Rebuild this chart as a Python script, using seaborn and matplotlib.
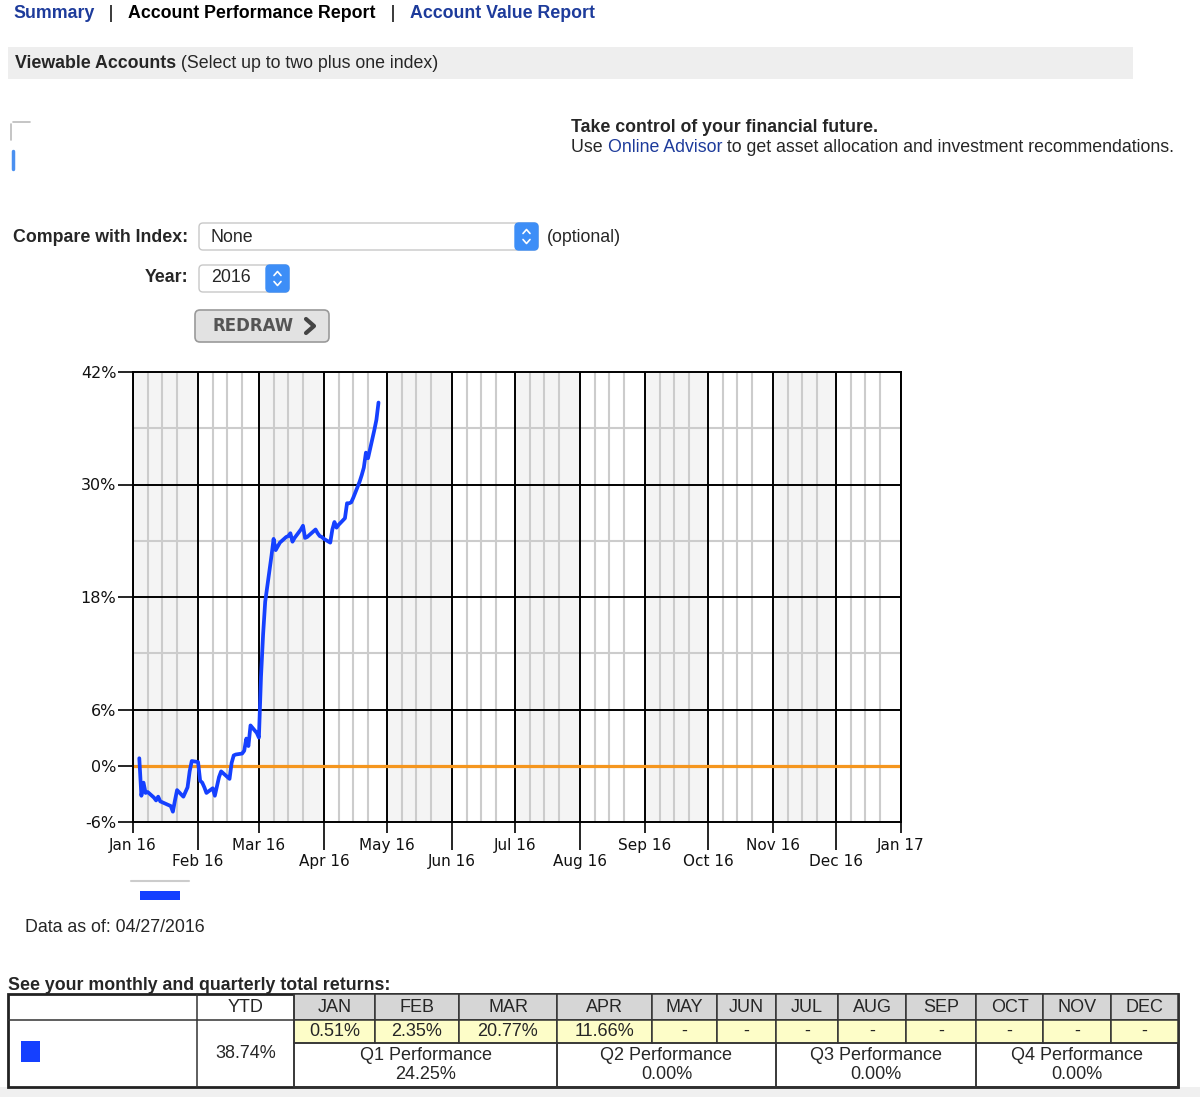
import matplotlib.pyplot as plt
import matplotlib.dates as mdates
import matplotlib.ticker as mticker
from matplotlib.patches import Rectangle, FancyBboxPatch
import pandas as pd
import seaborn as sns

# daily cumulative return of the account
dates = [
    "2016-01-04", "2016-01-05", "2016-01-06", "2016-01-07", "2016-01-08",
    "2016-01-11", "2016-01-12", "2016-01-13", "2016-01-14", "2016-01-15",
    "2016-01-19", "2016-01-20", "2016-01-21", "2016-01-22", "2016-01-25",
    "2016-01-26", "2016-01-27", "2016-01-28", "2016-01-29",
    "2016-02-01", "2016-02-02", "2016-02-03", "2016-02-04", "2016-02-05",
    "2016-02-08", "2016-02-09", "2016-02-10", "2016-02-11", "2016-02-12",
    "2016-02-16", "2016-02-17", "2016-02-18", "2016-02-19", "2016-02-22",
    "2016-02-23", "2016-02-24", "2016-02-25", "2016-02-26", "2016-02-29",
    "2016-03-01", "2016-03-02", "2016-03-03", "2016-03-04", "2016-03-07",
    "2016-03-08", "2016-03-09", "2016-03-10", "2016-03-11", "2016-03-14",
    "2016-03-15", "2016-03-16", "2016-03-17", "2016-03-18", "2016-03-21",
    "2016-03-22", "2016-03-23", "2016-03-24", "2016-03-28", "2016-03-29",
    "2016-03-30", "2016-03-31",
    "2016-04-01", "2016-04-04", "2016-04-05", "2016-04-06", "2016-04-07",
    "2016-04-08", "2016-04-11", "2016-04-12", "2016-04-13", "2016-04-14",
    "2016-04-15", "2016-04-18", "2016-04-19", "2016-04-20", "2016-04-21",
    "2016-04-22", "2016-04-25", "2016-04-26", "2016-04-27",
]
returns = [
    0.8, -3.2, -1.8, -2.9, -2.8,
    -3.4, -3.7, -3.3, -3.8, -3.9,
    -4.3, -4.9, -3.7, -2.6, -3.3,
    -2.8, -2.3, -0.6, 0.5,
    0.4, -1.6, -1.8, -2.3, -2.9,
    -2.4, -3.2, -2.2, -1.2, -0.6,
    -1.4, 0.3, 1.1, 1.2, 1.3,
    1.6, 2.9, 2.1, 4.3, 3.5,
    3.0, 9.5, 14.0, 17.5, 22.4,
    24.2, 23.0, 23.4, 23.8, 24.4,
    24.5, 24.8, 23.9, 24.3, 25.2,
    25.6, 24.3, 24.4, 25.2, 24.8,
    24.5, 24.4,
    24.2, 23.8, 25.2, 26.0, 25.4,
    25.7, 26.4, 28.0, 28.0, 28.1,
    28.6, 30.3, 31.0, 31.8, 33.4,
    32.8, 35.8, 36.9, 38.74,
]

y_ticks = [-6, 0, 6, 18, 30, 42]
y_minor = [12, 24, 36]

# returns table
months = ["JAN", "FEB", "MAR", "APR", "MAY", "JUN",
          "JUL", "AUG", "SEP", "OCT", "NOV", "DEC"]
monthly = [0.51, 2.35, 20.77, 11.66, None, None,
           None, None, None, None, None, None]
quarters = ["Q1", "Q2", "Q3", "Q4"]
quarterly = [24.25, 0.00, 0.00, 0.00]
ytd = 38.74
as_of = "04/27/2016"

BLUE = "#1540ff"
LINK = "#1d3b9b"
ORANGE = "#f5961e"

sns.set_theme(style="white")
plt.rcParams["font.family"] = ["Liberation Sans", "DejaVu Sans"]

fig = plt.figure(figsize=(12, 10.97), dpi=100)

# ---- page (pixel coordinates, y down) ----
pax = fig.add_axes([0, 0, 1, 1])
pax.set_xlim(0, 1200)
pax.set_ylim(1097, 0)
pax.axis("off")


def chain(prev, s, **kw):
    return pax.annotate(s, xy=(1, 0), xycoords=prev, va="bottom", ha="left", **kw)


FS = 12.8
t = pax.text(13, 13, "Summary", fontsize=FS, weight="bold", color=LINK, va="center")
t = chain(t, "   |   ", fontsize=FS, color="black")
t = chain(t, "Account Performance Report", fontsize=FS, weight="bold", color="black")
t = chain(t, "   |   ", fontsize=FS, color="black")
chain(t, "Account Value Report", fontsize=FS, weight="bold", color=LINK)

pax.add_patch(Rectangle((8, 47), 1125, 32, color="#eeeeee", lw=0))
t = pax.text(15, 63, "Viewable Accounts", fontsize=FS, weight="bold", va="center")
chain(t, " (Select up to two plus one index)", fontsize=FS)

# blurred account checkboxes
pax.plot([13, 30], [122, 122], color="#bbbbbb", lw=1.2)
pax.plot([11, 11], [124, 140], color="#bbbbbb", lw=1.2)
pax.plot([13, 13], [151, 169], color="#4a90f0", lw=2.5)

pax.text(571, 127, "Take control of your financial future.", fontsize=FS,
         weight="bold", va="center")
t = pax.text(571, 147, "Use ", fontsize=FS, va="center")
t = chain(t, "Online Advisor", fontsize=FS, color=LINK)
chain(t, " to get asset allocation and investment recommendations.", fontsize=FS)

# index / year selectors
pax.text(188, 237, "Compare with Index:", fontsize=FS, weight="bold", va="center", ha="right")
pax.add_patch(FancyBboxPatch((199, 223), 339, 27, boxstyle="round,pad=0,rounding_size=4",
                             fc="white", ec="#c8c8c8", lw=1))
pax.add_patch(FancyBboxPatch((515, 223), 23, 27, boxstyle="round,pad=0,rounding_size=4",
                             fc="#3d8ef7", ec="#3d8ef7", lw=1))
pax.text(211, 237, "None", fontsize=FS, va="center")
pax.text(547, 237, "(optional)", fontsize=FS, va="center")

pax.text(188, 278, "Year:", fontsize=FS, weight="bold", va="center", ha="right")
pax.add_patch(FancyBboxPatch((199, 265), 90, 27, boxstyle="round,pad=0,rounding_size=4",
                             fc="white", ec="#c8c8c8", lw=1))
pax.add_patch(FancyBboxPatch((266, 265), 23, 27, boxstyle="round,pad=0,rounding_size=4",
                             fc="#3d8ef7", ec="#3d8ef7", lw=1))
pax.text(211, 278, "2016", fontsize=FS, va="center")
for cx, cy in [(526.5, 236.5), (277.5, 278.5)]:
    pax.plot([cx - 3.5, cx, cx + 3.5], [cy - 3, cy - 7, cy - 3], color="white", lw=1.2)
    pax.plot([cx - 3.5, cx, cx + 3.5], [cy + 3, cy + 7, cy + 3], color="white", lw=1.2)

pax.add_patch(FancyBboxPatch((195, 310), 134, 32, boxstyle="round,pad=0,rounding_size=5",
                             fc="#e2e2e2", ec="#9a9a9a", lw=1.2))
pax.text(253, 326, "REDRAW", fontsize=12, weight="bold", color="#555555",
         va="center", ha="center", family=["DejaVu Sans"])
pax.plot([306, 314, 306], [319, 326, 333], color="#444444", lw=3)

# legend + date
pax.plot([131, 189], [881, 881], color="#cccccc", lw=1.5)
pax.add_patch(Rectangle((140, 891), 40, 9, color=BLUE, lw=0))
pax.text(25, 927, f"Data as of: {as_of}", fontsize=FS, va="center")

# ---- returns table ----
pax.text(8, 985, "See your monthly and quarterly total returns:", fontsize=FS,
         weight="bold", va="center")
edges = [8, 197, 294, 375, 459, 557, 652, 717, 776, 838, 906, 976, 1043, 1111, 1178]
r0, r1, r2, r3 = 994, 1020, 1043, 1087
pax.add_patch(Rectangle((0, r3), 1200, 1097 - r3, color="#f0f0f0", lw=0))
line_kw = dict(color="#333333", lw=1.1)
cell_fs = 13
pax.add_patch(Rectangle((edges[0], r0), edges[-1] - edges[0], r3 - r0,
                        fc="white", ec="#222222", lw=2))
pax.text((edges[1] + edges[2]) / 2, (r0 + r1) / 2 + 1, "YTD", fontsize=cell_fs,
         ha="center", va="center")
for i, m in enumerate(months):
    x0, x1 = edges[i + 2], edges[i + 3]
    pax.add_patch(Rectangle((x0, r0), x1 - x0, r1 - r0, fc="#d6d6d6", ec="#333333", lw=1.1))
    pax.add_patch(Rectangle((x0, r1), x1 - x0, r2 - r1, fc="#fdfdc8", ec="#333333", lw=1.1))
    pax.text((x0 + x1) / 2, (r0 + r1) / 2 + 1, m, fontsize=cell_fs, ha="center", va="center")
    val = "-" if monthly[i] is None else f"{monthly[i]:.2f}%"
    pax.text((x0 + x1) / 2, (r1 + r2) / 2, val, fontsize=cell_fs, ha="center", va="center")
for q, (name, val) in enumerate(zip(quarters, quarterly)):
    x0, x1 = edges[2 + 3 * q], edges[5 + 3 * q]
    pax.add_patch(Rectangle((x0, r2), x1 - x0, r3 - r2, fc="none", ec="#333333", lw=1.1))
    pax.text((x0 + x1) / 2, (r2 + r3) / 2, f"{name} Performance\n{val:.2f}%",
             fontsize=cell_fs, ha="center", va="center", linespacing=1.15)
pax.plot([edges[1], edges[1]], [r0, r3], **line_kw)
pax.plot([edges[2], edges[2]], [r0, r3], **line_kw)
pax.plot([edges[0], edges[2]], [r1, r1], **line_kw)
pax.text((edges[1] + edges[2]) / 2, (r1 + r3) / 2, f"{ytd:.2f}%", fontsize=cell_fs,
         ha="center", va="center")
pax.add_patch(Rectangle((21, 1041), 19, 21, color=BLUE, lw=0))

# ---- chart ----
ax = fig.add_axes([133 / 1200, 1 - 822 / 1097, 768 / 1200, 450 / 1097])
df = pd.DataFrame({"date": pd.to_datetime(dates), "ret": returns})

start, end = pd.Timestamp("2016-01-01"), pd.Timestamp("2017-01-01")
month_starts = pd.date_range(start, end, freq="MS")
for a, b in zip(month_starts[0::2], month_starts[1::2]):
    ax.axvspan(a, b, color="#f4f4f4", lw=0, zorder=0.1)
weekly = [pd.Timestamp(2016, m, d) for m in range(1, 13) for d in (8, 15, 22)]
for w in weekly:
    ax.axvline(w, color="#cccccc", lw=1.5, zorder=0.3)
for yv in y_minor:
    ax.axhline(yv, color="#cccccc", lw=1.5, zorder=0.3)
for yv in y_ticks[2:-1]:
    ax.axhline(yv, color="black", lw=1.4, zorder=0.6)
ax.axhline(0, color=ORANGE, lw=2.3, zorder=2)

sns.lineplot(data=df, x="date", y="ret", ax=ax, color=BLUE, lw=2.7, zorder=3)

ax.set_xlim(start, end)
ax.set_ylim(-6, 42)
ax.set_yticks(y_ticks)
ax.yaxis.set_major_formatter(mticker.FuncFormatter(lambda v, _: f"{v:.0f}%"))
ax.xaxis.set_major_locator(mdates.MonthLocator(bymonth=[1, 3, 5, 7, 9, 11]))
ax.xaxis.set_minor_locator(mdates.MonthLocator(bymonth=[2, 4, 6, 8, 10, 12]))
ax.xaxis.set_major_formatter(mdates.DateFormatter("%b %y"))
ax.xaxis.set_minor_formatter(mdates.DateFormatter("%b %y"))
ax.set_axisbelow(True)
ax.grid(True, axis="x", which="both", color="black", lw=1.4)

ax.tick_params(axis="x", which="major", length=8, width=1.2, color="black",
               pad=3.5, labelsize=11, bottom=True)
ax.tick_params(axis="x", which="minor", length=20, width=1.2, color="black",
               pad=3, labelsize=11, bottom=True)
ax.tick_params(axis="y", which="major", length=11, width=1.2, color="black",
               pad=1, labelsize=11.5, left=True)
for lab in ax.get_xticklabels(minor=False) + ax.get_xticklabels(minor=True) + ax.get_yticklabels():
    lab.set_family(["DejaVu Sans"])
    lab.set_color("#111111")
ax.set_xlabel("")
ax.set_ylabel("")
for s in ax.spines.values():
    s.set_color("black")
    s.set_linewidth(1.4)
    s.set_zorder(4)

fig.savefig("out.png", dpi=100)
